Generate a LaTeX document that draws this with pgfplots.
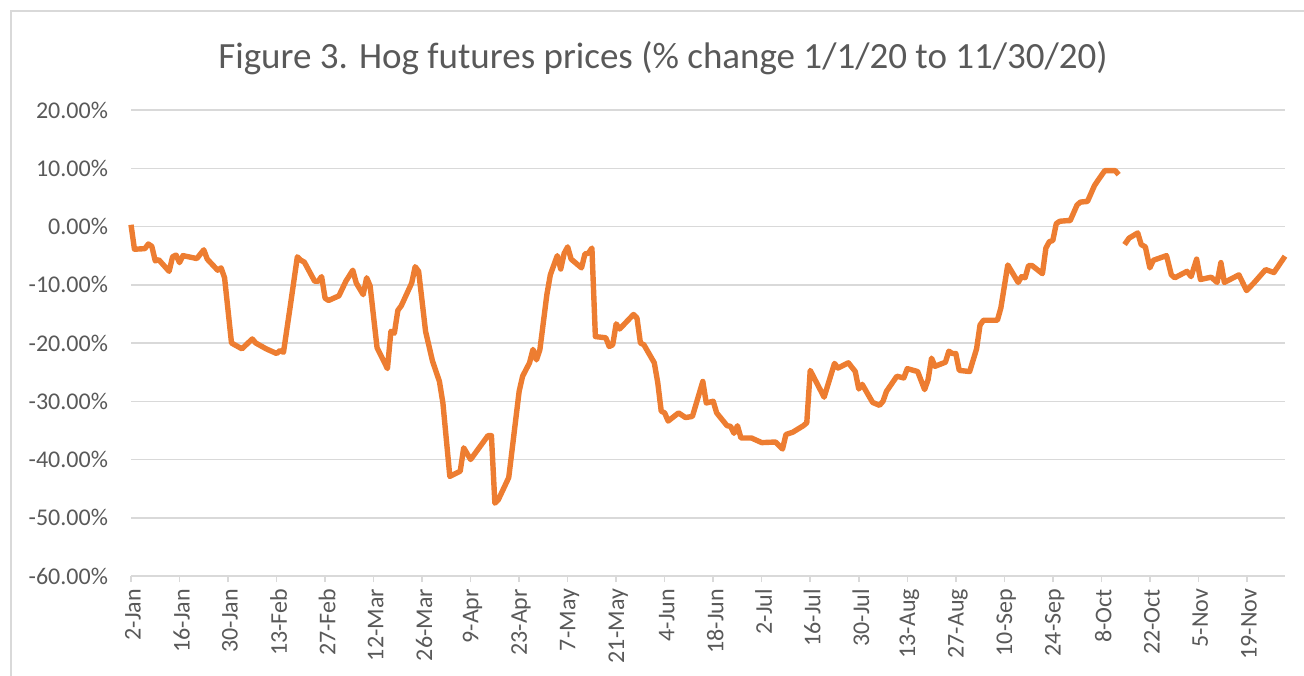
\documentclass[border=0pt]{standalone}
\usepackage{fontspec}
\setmainfont{Carlito}
\usepackage{pgfplots}
\pgfplotsset{compat=1.18}
\definecolor{hog}{HTML}{ED7D31}
\definecolor{txt}{HTML}{595959}
\definecolor{gridc}{HTML}{D9D9D9}
\begin{document}
\begin{tikzpicture}
\path[use as bounding box] (0,0) rectangle (652pt,337.5pt);
\draw[gridc, line width=1pt] (5.5pt,-10pt) rectangle (670pt,332pt);
\node[txt, font=\fontsize{18.5}{22}\selectfont] at (331.5pt,308.5pt) {Figure 3. Hog futures prices (\% change 1/1/20 to 11/30/20)};
\begin{axis}[
  at={(65.5pt,49.5pt)}, anchor=south west, scale only axis,
  width=577pt, height=233pt,
  xmin=0, xmax=333, ymin=-60, ymax=20,
  clip=false,
  axis x line*=bottom, axis y line*=left,
  y axis line style={draw=none},
  x axis line style={draw=gridc, line width=0.75pt},
  ytick={-60,-50,...,20},
  yticklabels={-60.00\%,-50.00\%,-40.00\%,-30.00\%,-20.00\%,-10.00\%,0.00\%,10.00\%,20.00\%},
  xtick={0,14,...,322},
  xticklabels={2-Jan,16-Jan,30-Jan,13-Feb,27-Feb,12-Mar,26-Mar,9-Apr,23-Apr,7-May,21-May,4-Jun,18-Jun,2-Jul,16-Jul,30-Jul,13-Aug,27-Aug,10-Sep,24-Sep,8-Oct,22-Oct,5-Nov,19-Nov},
  ymajorgrids, grid style={draw=gridc, line width=0.75pt},
  ytick style={draw=none},
  xtick style={draw=gridc, line width=0.75pt},
  tick align=outside, major tick length=3pt,
  yticklabel style={txt, font=\fontsize{12}{14}\selectfont, xshift=-5pt},
  xticklabel style={txt, font=\fontsize{12}{14}\selectfont, rotate=90, anchor=east, yshift=-1pt},
  unbounded coords=jump,
]
\addplot[hog, line width=2.7pt, line join=round, no markers] table {
x y
0 0.3
1 -3.9
4 -3.8
5 -3.0
6 -3.4
7 -5.9
8 -5.7
11 -7.7
12 -5.2
13 -4.9
14 -6.2
15 -5.0
19 -5.5
21 -4.0
22 -5.6
25 -7.5
26 -7.1
27 -8.8
29 -20.0
32 -21.0
35 -19.3
36 -20.0
39 -21.0
42 -21.8
43 -21.3
44 -21.6
46 -13.5
48 -5.2
49 -5.8
50 -6.1
53 -9.4
54 -9.4
55 -8.6
56 -12.3
57 -12.7
60 -11.9
62 -9.4
64 -7.5
65 -9.7
67 -11.7
68 -8.8
69 -10.2
71 -20.8
74 -24.4
75 -18.0
76 -18.3
77 -14.4
78 -13.6
81 -9.7
82 -6.9
83 -7.7
85 -18.0
87 -23.1
89 -26.6
90 -30.3
92 -42.9
95 -42.0
96 -38.0
98 -40.0
103 -35.9
104 -35.9
105 -47.5
106 -46.9
109 -43.1
112 -28.3
113 -25.7
115 -23.4
116 -21.1
117 -22.9
118 -21.1
120 -11.7
121 -8.3
123 -5.0
124 -7.3
125 -4.6
126 -3.5
127 -5.6
130 -7.1
131 -4.7
132 -4.6
133 -3.7
134 -18.9
137 -19.1
138 -20.6
139 -20.3
140 -16.7
141 -17.6
145 -15.1
146 -15.7
147 -20.0
148 -20.3
151 -23.4
152 -26.8
153 -31.7
154 -32.0
155 -33.4
158 -32.0
160 -32.8
162 -32.6
165 -26.6
166 -30.3
168 -30.0
169 -32.0
172 -34.2
173 -34.3
174 -35.5
175 -34.2
176 -36.3
179 -36.3
182 -37.1
186 -37.0
188 -38.2
189 -35.7
191 -35.3
194 -34.2
195 -33.7
196 -24.7
200 -29.3
203 -23.5
204 -24.3
207 -23.4
209 -24.9
210 -27.9
211 -27.1
214 -30.2
216 -30.7
217 -30.0
218 -28.3
221 -25.7
223 -26.0
224 -24.4
227 -24.9
229 -28.0
230 -26.3
231 -22.6
232 -24.0
235 -23.3
236 -21.4
237 -21.8
238 -21.8
239 -24.7
242 -24.9
244 -21.0
245 -16.9
246 -16.1
250 -16.1
251 -14.0
253 -6.6
256 -9.6
257 -8.6
258 -8.8
259 -6.7
260 -6.7
263 -8.1
264 -3.7
265 -2.6
266 -2.4
267 0.5
268 0.9
270 1.0
271 1.0
273 3.7
274 4.2
276 4.3
278 7.0
279 7.9
281 9.6
284 9.6
285 8.9
286 nan
286.7 -3.1
288 -2.0
290.5 -1.1
291.5 -3.1
292.7 -3.5
294 -7.1
295 -5.8
298.8 -5.0
300.2 -8.3
301.2 -8.8
304.7 -7.7
305.9 -8.6
307.5 -5.6
308.6 -9.1
311.7 -8.7
313.4 -9.6
314.5 -6.2
315.5 -9.6
319.7 -8.3
321.9 -11.0
324 -9.7
327.4 -7.4
329.8 -7.9
333 -5.1
};
\end{axis}
\end{tikzpicture}
\end{document}
